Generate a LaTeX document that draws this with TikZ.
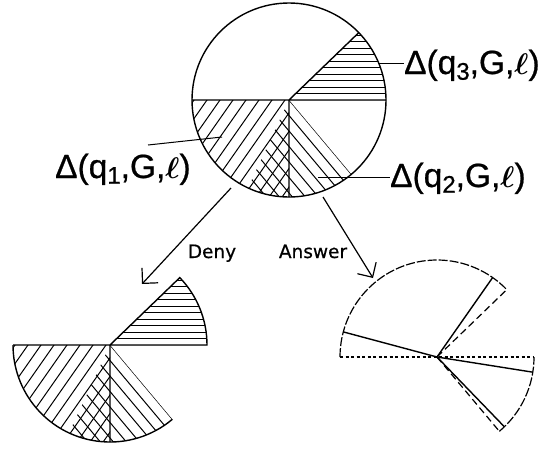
\documentclass[tikz,border=0pt]{standalone}
\usepackage{amsmath}
\usepackage{fontspec}
\setmainfont{Liberation Sans}
\newfontfamily\setfont{Liberation Sans}[FakeBold=0.7]
\newfontfamily\lblfont{DejaVu Sans}[FakeBold=0.6]
\usetikzlibrary{arrows.meta}
\tikzset{edge/.style={line width=1.4pt}, hatch/.style={line width=1pt}, cutline/.style={line width=1.2pt, dash pattern=on 3pt off 2.5pt}, cutray/.style={line width=1.2pt, dash pattern=on 7pt off 4pt}, cutarc/.style={line width=1.2pt, dash pattern=on 9pt off 2pt}, move/.style={line width=1.2pt, -{Straight Barb[length=11pt,width=22pt]}}, movelbl/.style={font=\lblfont\fontsize{18.5}{20}\selectfont, inner sep=0pt, anchor=base}, setlbl/.style={font=\setfont\fontsize{33.5}{38}\selectfont, inner sep=0pt, anchor=base west}}
\newcommand{\dset}[1]{Δ(q\raisebox{-0.17em}{\fontsize{24}{24}\selectfont #1},G,\scalebox{1.2}{$\boldsymbol{\ell}$})}
\newcommand{\pieshades}{%
\begin{scope}\clip (0,0) -- (0:97) arc (0:44:97) -- cycle;
\foreach \y in {0,6.5,...,70} \draw[hatch] (0,\y) -- (100,\y);
\end{scope}
\begin{scope}\clip (0,0) -- (180:97) arc (180:270:97) -- cycle;
\foreach \x in {-160,-147,...,80} \draw[hatch] (\x,0) ++(235:150) -- ++(55:300);
\end{scope}
\begin{scope}\clip (0,0) -- (245:97) arc (245:310:97) -- cycle;
\foreach \x in {-130,-117,...,80} \draw[hatch] (\x,0) ++(130:150) -- ++(310:300);
\end{scope}}

\begin{document}
\begin{tikzpicture}[x=1pt,y=1pt]
\useasboundingbox (0,0) rectangle (545,-450);
\coordinate (top) at (289,-100);
\coordinate (deny) at (110,-345);
\coordinate (ans) at (437,-357);
\begin{scope}[shift={(top)}]
\pieshades
\draw[edge] (0,0) circle (97);
\draw[edge] (180:97) -- (0:97) (0,0) -- (270:97) (0,0) -- (44:97);
\end{scope}
\begin{scope}[shift={(deny)}]
\pieshades
\draw[edge] (180:97) -- (0:97) arc (0:44:97) -- (0,0) -- (270:97);
\draw[edge] (310:97) arc (-50:-180:97);
\end{scope}
\begin{scope}[shift={(ans)}]
\draw[cutline] (180:97) -- (0:97);
\draw[cutarc] (180:97) arc (180:44:97);
\draw[cutray] (0,0) -- (44:97);
\draw[cutray] (0,0) -- (310:97);
\draw[cutarc] (310:97) arc (-50:0:97);
\draw[edge] (165:97) -- (0,0) -- (55:97);
\draw[edge] (-9:97) -- (0,0) -- (-46:97);
\end{scope}
\node[setlbl] (q3) at (404,-74) {\dset{3}};
\node[setlbl] (q2) at (390,-187) {\dset{2}};
\node[setlbl] (q1) at (55,-178) {\dset{1}};
\coordinate (c3) at (379,-63);
\coordinate (c2) at (318,-177);
\coordinate (c1a) at (148,-145);
\coordinate (c1b) at (222,-137);
\draw[hatch] (c3) -- (c3 -| q3.west);
\draw[hatch] (c2) -- (c2 -| q2.west);
\draw[hatch] (c1a) -- (c1b);
\coordinate (dfrom) at (231,-188);
\coordinate (dto) at (142,-284);
\coordinate (afrom) at (323,-197);
\coordinate (ato) at (373,-278);
\draw[move] (dfrom) -- (dto);
\draw[move] (afrom) -- (ato);
\node[movelbl] (denylbl) at (212,-258) {Deny};
\node[movelbl] (anslbl) at (313,-258) {Answer};
\end{tikzpicture}
\end{document}
